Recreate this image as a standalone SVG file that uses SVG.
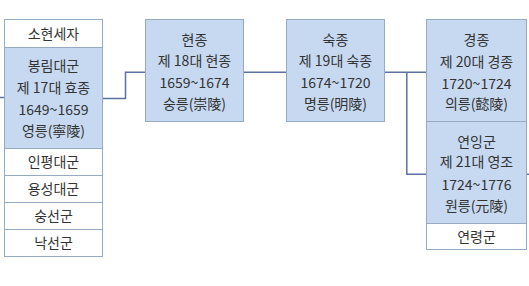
<svg xmlns="http://www.w3.org/2000/svg" width="529" height="286" viewBox="0 0 529 286">
<style>
.w{fill:#ffffff;stroke:#95aac4;stroke-width:1}
.b{fill:#c6d9f1;stroke:#95aac4;stroke-width:1}
text{font-family:"Noto Sans CJK KR","Noto Sans",sans-serif;font-size:14px;fill:#333333;text-anchor:middle}
.c{fill:none;stroke:#5a73a0;stroke-width:1.5}
</style>
<rect x="0" y="0" width="529" height="286" fill="#ffffff"/>
<g id="connectors">
<path class="c" d="M0,97.5H4"/>
<path class="c" d="M103,98.5H125.5V72.3H145"/>
<path class="c" d="M244,72.3H286"/>
<path class="c" d="M384,72.3H426"/>
<path class="c" d="M406.8,72.3V174.3H426"/>
<path class="c" d="M526.5,174.3H529"/>
</g>
<g id="sohyeon">
<rect class="w" x="4.5" y="19.5" width="98" height="28"/>
<text x="53.5" y="38.5">소현세자</text>
</g>
<g id="hyojong">
<rect class="b" x="4.5" y="47.5" width="98" height="101"/>
<text x="53.5" y="71">봉림대군</text>
<text x="53.5" y="92.5">제 17대 효종</text>
<text x="53.5" y="114.5">1649~1659</text>
<text x="53.5" y="135.5">영릉(寧陵)</text>
</g>
<g id="inpyeong">
<rect class="w" x="4.5" y="148.5" width="98" height="27"/>
<text x="53.5" y="167">인평대군</text>
</g>
<g id="yongseong">
<rect class="w" x="4.5" y="175.5" width="98" height="27"/>
<text x="53.5" y="194">용성대군</text>
</g>
<g id="sungseon">
<rect class="w" x="4.5" y="202.5" width="98" height="27"/>
<text x="53.5" y="221">숭선군</text>
</g>
<g id="nakseon">
<rect class="w" x="4.5" y="229.5" width="98" height="27"/>
<text x="53.5" y="248">낙선군</text>
</g>
<g id="hyeonjong">
<rect class="b" x="145.5" y="19.5" width="98" height="102"/>
<text x="194.5" y="44.5">현종</text>
<text x="194.5" y="66">제 18대 현종</text>
<text x="194.5" y="88">1659~1674</text>
<text x="194.5" y="109">숭릉(崇陵)</text>
</g>
<g id="sukjong">
<rect class="b" x="286.5" y="19.5" width="98" height="102"/>
<text x="335.5" y="44.5">숙종</text>
<text x="335.5" y="66">제 19대 숙종</text>
<text x="335.5" y="88">1674~1720</text>
<text x="335.5" y="109">명릉(明陵)</text>
</g>
<g id="gyeongjong">
<rect class="b" x="426.5" y="19.5" width="100" height="102"/>
<text x="476.5" y="44.5">경종</text>
<text x="476.5" y="66.5">제 20대 경종</text>
<text x="476.5" y="88.5">1720~1724</text>
<text x="476.5" y="109">의릉(懿陵)</text>
</g>
<g id="yeongjo">
<rect class="b" x="426.5" y="121.5" width="100" height="102"/>
<text x="476.5" y="146.5">연잉군</text>
<text x="476.5" y="167">제 21대 영조</text>
<text x="476.5" y="189.5">1724~1776</text>
<text x="476.5" y="210.5">원릉(元陵)</text>
</g>
<g id="yeonryeong">
<rect class="w" x="426.5" y="223.5" width="100" height="26"/>
<text x="476.5" y="242">연령군</text>
</g>
</svg>
